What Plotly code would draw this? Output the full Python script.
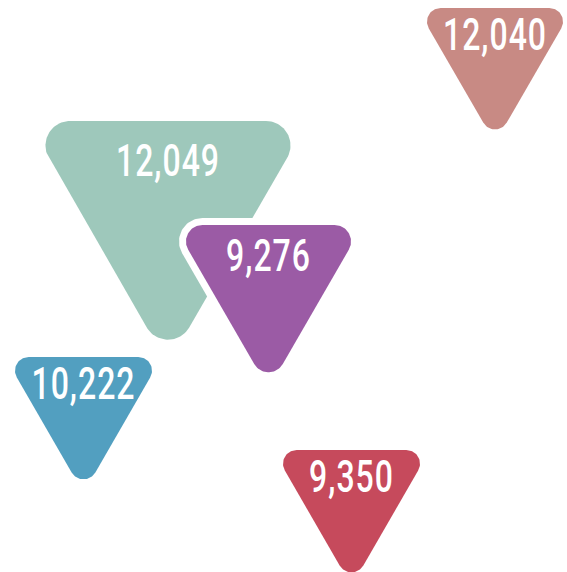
import numpy as np
import plotly.graph_objects as go

# Data
labels = ["12,040", "12,049", "9,276", "10,222", "9,350"]
values = [12040, 12049, 9276, 10222, 9350]

# Layout (pixel-space placement of each marker)
centers_x = [495, 168, 268.5, 83.5, 351.5]
tops_y = [8, 121, 225, 357, 450]
widths = [136, 245, 165, 137, 137]
colors = ["#c88a84", "#9ec8bb", "#9b5ba5", "#529fc0", "#c64a5c"]

W, H = 567, 572
HALO = 7


def rounded_tri(cx, top, w, extra=0.0):
    r = 0.1 * w
    s = w - 2 * r
    y0 = top + r
    verts = [
        ((cx + s / 2, y0), -90, 30),
        ((cx, y0 + s * np.sqrt(3) / 2), 30, 150),
        ((cx - s / 2, y0), 150, 270),
    ]
    R = r + extra
    xs, ys = [], []
    for (vx, vy), a0, a1 in verts:
        t = np.radians(np.linspace(a0, a1, 30))
        xs.extend(vx + R * np.cos(t))
        ys.extend(vy + R * np.sin(t))
    xs.append(xs[0])
    ys.append(ys[0])
    return xs, ys


fig = go.Figure()
for lab, val, cx, top, w, col in zip(labels, values, centers_x, tops_y, widths, colors):
    hx, hy = rounded_tri(cx, top, w, HALO)
    fig.add_trace(go.Scatter(x=hx, y=hy, fill="toself", fillcolor="white",
                             line=dict(width=0), mode="lines", hoverinfo="skip",
                             showlegend=False))
    px, py = rounded_tri(cx, top, w)
    fig.add_trace(go.Scatter(x=px, y=py, fill="toself", fillcolor=col,
                             line=dict(width=0), mode="lines", name=lab,
                             hoverinfo="skip", showlegend=False))
    fig.add_trace(go.Scatter(x=[cx], y=[top + 0.12 * w + 18], mode="text",
                             text=[f"{val:,}"], textposition="middle center",
                             textfont=dict(family="Roboto, sans-serif", size=32,
                                           color="white", weight=500),
                             hoverinfo="skip", showlegend=False))

fig.update_layout(
    width=W, height=H,
    margin=dict(l=0, r=0, t=0, b=0),
    paper_bgcolor="white", plot_bgcolor="white",
    xaxis=dict(range=[0, W], visible=False, fixedrange=True),
    yaxis=dict(range=[H, 0], visible=False, fixedrange=True),
)

post = """
document.body.style.margin='0';
var gd=document.getElementById('{plot_id}');
function stretchText(){
  gd.querySelectorAll('.textpoint text').forEach(function(t){
    var x=+t.getAttribute('x'), y=+t.getAttribute('y');
    t.setAttribute('transform','translate('+x+','+y+') scale(1,1.38) translate('+(-x)+','+(-y)+')');
    t.style.letterSpacing='1px';
  });
}
stretchText();
gd.on('plotly_afterplot', stretchText);
"""

fig.write_html("out.html", post_script=post, config={"displayModeBar": False})
